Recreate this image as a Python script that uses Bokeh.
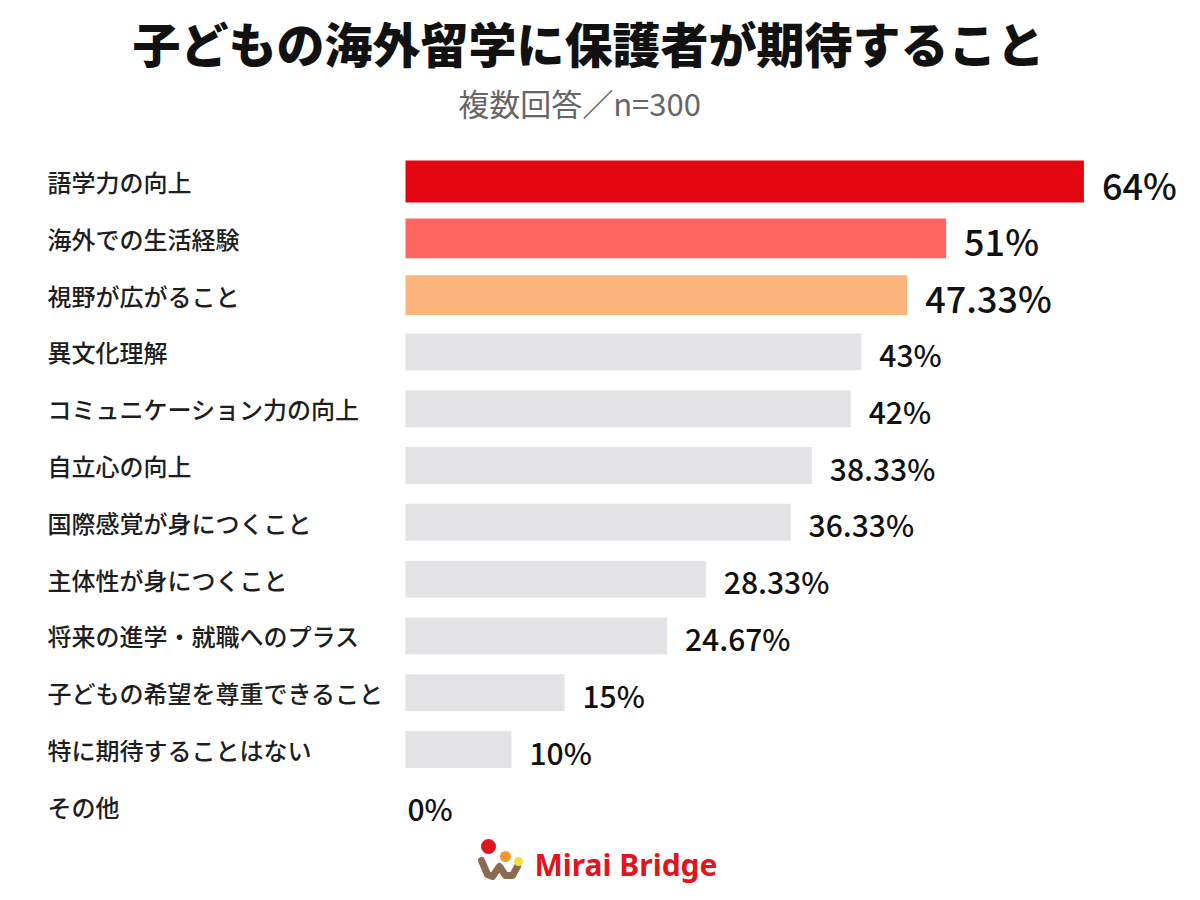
from bokeh.plotting import figure
from bokeh.models import Range1d, ColumnDataSource
from bokeh.core.properties import value
from bokeh.embed import file_html
from bokeh.resources import INLINE

# ---- data ----
title_text = "子どもの海外留学に保護者が期待すること"
subtitle_text = "複数回答／n=300"
categories = [
    "語学力の向上",
    "海外での生活経験",
    "視野が広がること",
    "異文化理解",
    "コミュニケーション力の向上",
    "自立心の向上",
    "国際感覚が身につくこと",
    "主体性が身につくこと",
    "将来の進学・就職へのプラス",
    "子どもの希望を尊重できること",
    "特に期待することはない",
    "その他",
]
values = [64, 51, 47.33, 43, 42, 38.33, 36.33, 28.33, 24.67, 15, 10, 0]
value_labels = ["64%", "51%", "47.33%", "43%", "42%", "38.33%", "36.33%",
                "28.33%", "24.67%", "15%", "10%", "0%"]
brand = "Mirai Bridge"

# ---- layout constants (pixel mapping) ----
W, H = 1200, 900
PX_PER_PCT = 10.6
ORIGIN_PX = 405
ROW0_PX = 181
ROW_PX = 56.8

def px2x(px):
    return (px - ORIGIN_PX) / PX_PER_PCT

def py2y(py):
    return (py - ROW0_PX) / ROW_PX

FONT = "Noto Sans CJK JP"
FONT_MED = "'Noto Sans CJK JP Medium', 'Noto Sans CJK JP'"
FONT_BLACK = "'Noto Sans CJK JP Black', 'Noto Sans CJK JP'"

p = figure(width=W, height=H, output_backend="svg", toolbar_location=None,
           x_range=Range1d(px2x(0), px2x(W)),
           y_range=Range1d(py2y(H), py2y(0)),
           min_border=0, outline_line_color=None,
           background_fill_color="white", border_fill_color="white")
p.axis.visible = False
p.grid.visible = False

n = len(categories)
rows = list(range(n))
palette_top = ["#E1060F", "#FE6760", "#FDB47A"]
colors = [palette_top[i] if i < 3 else "#E3E3E5" for i in rows]
heights = [0.74 if i == 0 else (0.70 if i < 3 else 0.65) for i in rows]

src = ColumnDataSource(dict(y=rows, v=values, cat=categories, lab=value_labels,
                            color=colors, h=heights))
p.hbar(y="y", left=0, right="v", height="h", color="color", line_color=None, source=src)

# category labels
p.text(x=px2x(47), y="y", text="cat", source=src, text_font=value(FONT_MED),
       text_font_size="24px", text_color="#1e1e1e", text_baseline="middle",
       text_align="left")

# value labels
top_src = ColumnDataSource(dict(y=rows[:3], v=values[:3], lab=value_labels[:3]))
rest_src = ColumnDataSource(dict(y=[r for r in rows[3:] if values[r] > 0],
                                 v=[values[r] for r in rows[3:] if values[r] > 0],
                                 lab=[value_labels[r] for r in rows[3:] if values[r] > 0]))
zero_src = ColumnDataSource(dict(y=[r for r in rows if values[r] == 0],
                                 v=[values[r] for r in rows if values[r] == 0],
                                 lab=[value_labels[r] for r in rows if values[r] == 0]))
p.text(x="v", y="y", text="lab", source=top_src, x_offset=18, y_offset=2,
       text_font=value(FONT_MED), text_font_size="36px",
       text_color="#111111", text_baseline="middle", text_align="left")
p.text(x="v", y="y", text="lab", source=rest_src, x_offset=18, y_offset=2,
       text_font=value(FONT_MED), text_font_size="30px",
       text_color="#111111", text_baseline="middle", text_align="left")
p.text(x="v", y="y", text="lab", source=zero_src, x_offset=2, y_offset=2,
       text_font=value(FONT_MED), text_font_size="30px",
       text_color="#111111", text_baseline="middle", text_align="left")

# title & subtitle
p.text(x=[px2x(588)], y=[py2y(41)], text=[title_text], text_font=value(FONT_BLACK),
       text_font_size="48px", text_font_style="bold", text_color="#111111",
       text_align="center", text_baseline="middle")
p.text(x=[px2x(579)], y=[py2y(102)], text=[subtitle_text], text_font=value(FONT),
       text_font_size="31px", text_color="#666666",
       text_align="center", text_baseline="middle")

# logo
p.line(x=[px2x(481), px2x(487), px2x(492), px2x(499), px2x(505), px2x(512), px2x(517)],
       y=[py2y(860), py2y(874), py2y(876), py2y(866), py2y(875), py2y(875), py2y(866)],
       line_color="#8B6A50", line_width=7, line_cap="round", line_join="round")
p.scatter(x=[px2x(488), px2x(505), px2x(518)], y=[py2y(846), py2y(856), py2y(861)],
          size=[15, 11, 9], color=["#E0161E", "#F29A2E", "#F6E03C"], line_color=None)
p.text(x=[px2x(534)], y=[py2y(864)], text=[brand], text_font=value("Noto Sans"),
       text_font_size="30px", text_font_style="bold", text_color="#E0161E",
       text_align="left", text_baseline="middle")

open("out.html", "w").write(file_html(p, INLINE))
